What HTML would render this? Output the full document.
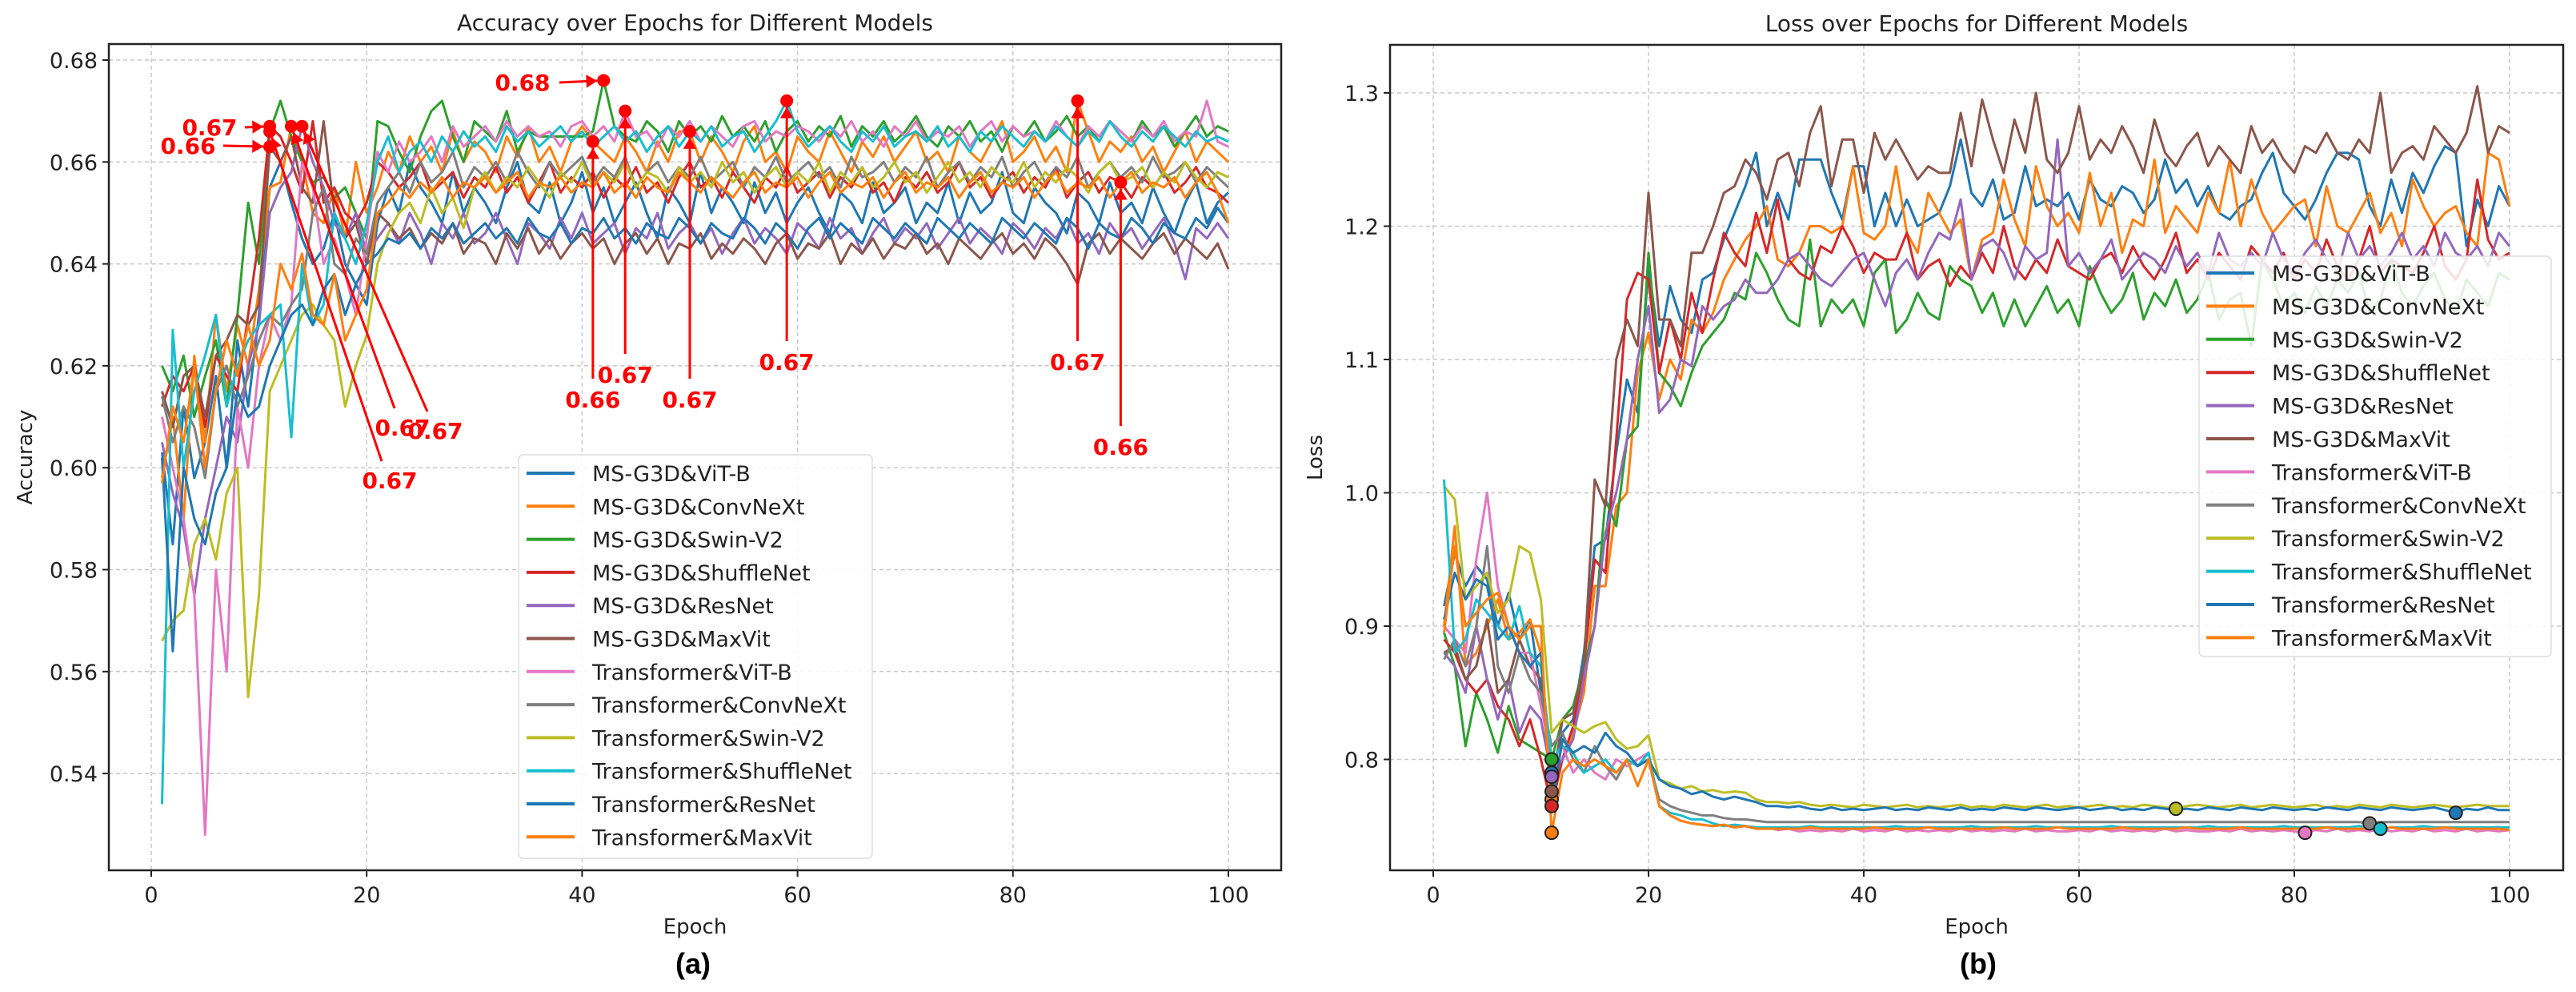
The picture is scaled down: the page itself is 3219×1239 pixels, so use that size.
<!DOCTYPE html>
<html><head><meta charset="utf-8"><style>
html,body{margin:0;padding:0;background:#fff;}
svg{display:block;font-family:"DejaVu Sans","Liberation Sans",sans-serif;}
</style></head><body>
<svg id="fig" width="3219" height="1239" viewBox="0 0 3219 1239" xmlns="http://www.w3.org/2000/svg">
<rect width="3219" height="1239" fill="#fff"/>
<g id="accChart"></g>
<g id="lossChart"></g>
</svg>
<script>
const seriesNames = ["MS-G3D&ViT-B","MS-G3D&ConvNeXt","MS-G3D&Swin-V2","MS-G3D&ShuffleNet","MS-G3D&ResNet","MS-G3D&MaxVit","Transformer&ViT-B","Transformer&ConvNeXt","Transformer&Swin-V2","Transformer&ShuffleNet","Transformer&ResNet","Transformer&MaxVit"];
const xTicks = [0,20,40,60,80,100];
const accTicks = [0.54,0.56,0.58,0.60,0.62,0.64,0.66,0.68];
const lossTicks = [0.8,0.9,1.0,1.1,1.2,1.3];

const acc1 = [.603,.585,.612,.598,.605,.618,.600,.625,.612,.630,.655,.660,.652,.645,.640,.643,.650,.640,.636,.632,.648,.655,.650,.660,.655,.652,.648,.658,.650,.655,.652,.648,.655,.660,.652,.650,.656,.648,.652,.658,.650,.655,.648,.652,.656,.650,.645,.655,.652,.648,.658,.650,.655,.652,.648,.656,.650,.654,.648,.652,.655,.650,.646,.654,.652,.648,.656,.650,.652,.655,.648,.652,.650,.656,.648,.654,.650,.652,.658,.650,.648,.655,.652,.650,.646,.654,.652,.648,.656,.650,.652,.648,.655,.650,.646,.652,.656,.648,.652,.654];
const acc2 = [.598,.610,.590,.622,.605,.630,.615,.628,.620,.635,.655,.656,.667,.660,.650,.648,.655,.645,.660,.650,.655,.662,.658,.665,.660,.663,.658,.666,.660,.664,.662,.658,.665,.661,.667,.660,.663,.658,.664,.667,.664,.662,.660,.665,.662,.658,.664,.660,.666,.666,.660,.665,.662,.658,.664,.667,.660,.662,.658,.665,.662,.660,.666,.662,.658,.664,.661,.665,.660,.663,.666,.660,.662,.658,.665,.662,.660,.664,.668,.660,.662,.665,.660,.663,.658,.672,.666,.660,.664,.662,.665,.660,.663,.658,.662,.666,.660,.664,.662,.660];
const acc3 = [.620,.615,.622,.610,.618,.625,.612,.630,.652,.640,.666,.672,.665,.660,.656,.657,.653,.655,.650,.645,.668,.667,.662,.658,.665,.670,.672,.665,.660,.668,.666,.664,.670,.662,.666,.665,.665,.665,.665,.665,.666,.676,.667,.665,.664,.668,.666,.662,.668,.665,.667,.664,.669,.665,.667,.664,.668,.662,.666,.668,.664,.667,.665,.669,.663,.667,.665,.668,.664,.666,.669,.665,.663,.667,.665,.668,.664,.666,.662,.667,.665,.668,.664,.666,.669,.665,.667,.664,.668,.666,.664,.668,.665,.667,.663,.666,.669,.665,.667,.666];
const acc4 = [.612,.618,.615,.620,.608,.622,.618,.615,.630,.645,.667,.665,.660,.654,.668,.652,.655,.650,.648,.652,.660,.658,.655,.657,.660,.654,.656,.658,.653,.657,.655,.659,.654,.657,.652,.656,.660,.654,.657,.655,.658,.653,.657,.655,.659,.654,.656,.652,.657,.660,.655,.657,.653,.658,.655,.652,.657,.655,.659,.654,.656,.658,.653,.657,.655,.659,.654,.656,.652,.657,.655,.658,.654,.656,.660,.655,.657,.653,.656,.658,.654,.657,.655,.659,.653,.656,.658,.654,.657,.656,.653,.657,.655,.658,.654,.656,.659,.655,.654,.652];
const acc5 = [.605,.595,.588,.575,.590,.600,.610,.605,.620,.628,.650,.655,.658,.667,.660,.655,.648,.645,.650,.642,.645,.648,.644,.650,.646,.640,.648,.645,.650,.644,.646,.650,.645,.640,.648,.646,.643,.649,.645,.650,.644,.646,.648,.642,.647,.645,.650,.643,.646,.648,.644,.647,.642,.646,.649,.644,.647,.645,.642,.648,.646,.643,.649,.645,.647,.642,.646,.649,.644,.647,.645,.648,.643,.646,.649,.644,.647,.645,.642,.648,.646,.643,.647,.645,.649,.644,.646,.642,.648,.645,.647,.643,.646,.649,.644,.637,.647,.645,.648,.645];
const acc6 = [.615,.608,.618,.620,.610,.622,.625,.630,.628,.632,.663,.660,.665,.655,.652,.668,.650,.645,.648,.640,.650,.648,.645,.647,.643,.646,.644,.648,.642,.645,.644,.640,.646,.643,.647,.642,.645,.641,.644,.646,.643,.645,.640,.644,.646,.642,.645,.640,.644,.643,.646,.641,.644,.642,.645,.643,.640,.644,.646,.641,.644,.643,.646,.640,.644,.642,.645,.641,.644,.643,.646,.642,.644,.640,.645,.643,.641,.644,.646,.642,.644,.641,.645,.643,.640,.636,.644,.646,.642,.645,.643,.641,.644,.646,.642,.645,.643,.641,.644,.639];
const acc7 = [.610,.600,.590,.575,.528,.580,.560,.612,.600,.620,.630,.625,.632,.660,.655,.640,.645,.638,.630,.645,.662,.658,.664,.660,.662,.665,.660,.667,.663,.665,.667,.664,.668,.665,.667,.665,.666,.663,.667,.668,.665,.667,.664,.670,.665,.666,.663,.667,.665,.668,.664,.667,.665,.663,.667,.668,.664,.666,.665,.667,.666,.664,.667,.665,.668,.664,.666,.663,.667,.665,.668,.664,.666,.665,.667,.663,.666,.668,.664,.667,.665,.666,.664,.668,.665,.663,.667,.665,.668,.666,.664,.667,.665,.668,.664,.666,.665,.672,.664,.663];
const acc8 = [.614,.605,.612,.608,.598,.615,.620,.612,.618,.625,.630,.628,.632,.635,.650,.655,.640,.638,.645,.642,.652,.655,.658,.654,.660,.656,.658,.662,.655,.659,.657,.660,.656,.662,.658,.655,.660,.657,.659,.661,.656,.659,.657,.661,.655,.658,.660,.656,.659,.657,.661,.656,.658,.660,.655,.659,.657,.661,.656,.658,.660,.657,.659,.655,.661,.657,.658,.660,.656,.659,.657,.661,.655,.658,.660,.656,.659,.657,.661,.655,.658,.660,.656,.659,.657,.661,.655,.658,.660,.657,.659,.656,.661,.657,.658,.660,.656,.659,.657,.655];
const acc9 = [.566,.570,.572,.585,.590,.582,.595,.600,.555,.575,.615,.620,.625,.630,.632,.628,.625,.612,.620,.626,.640,.646,.650,.652,.648,.655,.650,.653,.647,.655,.658,.654,.657,.655,.659,.656,.653,.658,.656,.660,.655,.658,.656,.660,.655,.658,.657,.654,.659,.656,.658,.655,.660,.656,.658,.654,.657,.659,.655,.658,.656,.660,.654,.658,.656,.659,.655,.657,.660,.656,.658,.654,.657,.660,.656,.658,.655,.659,.657,.656,.660,.655,.658,.656,.659,.657,.654,.658,.660,.656,.657,.659,.655,.658,.656,.660,.657,.655,.658,.657];
const acc10 = [.534,.627,.600,.615,.622,.630,.612,.620,.625,.628,.630,.632,.606,.640,.628,.632,.650,.645,.640,.648,.660,.665,.658,.662,.664,.660,.665,.662,.666,.663,.665,.662,.667,.664,.666,.663,.665,.667,.664,.666,.663,.665,.667,.664,.666,.662,.665,.667,.663,.666,.664,.667,.663,.665,.666,.662,.665,.668,.672,.666,.663,.665,.667,.664,.662,.666,.664,.667,.663,.665,.666,.664,.667,.663,.665,.662,.666,.664,.667,.665,.663,.666,.664,.667,.665,.663,.666,.664,.668,.665,.663,.666,.664,.667,.665,.663,.666,.664,.665,.664];
const acc11 = [.602,.564,.600,.590,.585,.595,.600,.615,.610,.612,.620,.625,.630,.632,.628,.635,.638,.630,.636,.640,.642,.645,.644,.646,.643,.647,.645,.648,.644,.646,.648,.645,.647,.644,.649,.646,.645,.648,.644,.647,.646,.649,.645,.647,.644,.648,.646,.645,.649,.647,.644,.648,.646,.645,.649,.647,.644,.648,.646,.643,.647,.649,.645,.648,.646,.644,.649,.647,.645,.648,.646,.644,.649,.647,.645,.648,.646,.644,.649,.647,.645,.648,.646,.644,.649,.647,.643,.648,.646,.645,.649,.647,.644,.648,.646,.645,.649,.647,.651,.648];
const acc12 = [.597,.612,.605,.620,.600,.615,.625,.618,.628,.620,.625,.640,.635,.642,.630,.628,.638,.625,.630,.635,.650,.652,.655,.653,.656,.654,.657,.653,.656,.655,.657,.654,.656,.658,.653,.656,.655,.657,.654,.656,.655,.658,.654,.656,.653,.657,.655,.654,.658,.656,.654,.657,.655,.653,.656,.658,.654,.656,.655,.657,.653,.656,.658,.654,.656,.655,.657,.653,.656,.658,.654,.656,.655,.657,.653,.656,.658,.654,.656,.655,.657,.653,.656,.658,.654,.656,.655,.657,.653,.656,.658,.654,.656,.655,.657,.653,.656,.658,.654,.648];

const loss1 = [.915,.955,.930,.945,.935,.900,.925,.890,.905,.850,.790,.820,.830,.880,.960,.965,1.030,1.085,1.060,1.170,1.110,1.155,1.130,1.120,1.160,1.165,1.190,1.210,1.230,1.255,1.200,1.225,1.205,1.250,1.250,1.250,1.225,1.205,1.245,1.245,1.200,1.225,1.200,1.220,1.200,1.205,1.210,1.230,1.265,1.225,1.215,1.235,1.205,1.210,1.245,1.215,1.220,1.215,1.225,1.205,1.235,1.220,1.215,1.230,1.225,1.210,1.220,1.250,1.225,1.235,1.215,1.230,1.210,1.205,1.215,1.220,1.240,1.255,1.225,1.215,1.205,1.220,1.240,1.255,1.255,1.250,1.215,1.200,1.235,1.210,1.240,1.225,1.245,1.260,1.255,1.185,1.220,1.200,1.230,1.215];
const loss2 = [.900,.975,.870,.880,.900,.920,.890,.895,.905,.880,.770,.800,.820,.850,.930,.930,.990,1.000,1.090,1.120,1.070,1.100,1.085,1.130,1.120,1.135,1.160,1.175,1.190,1.200,1.215,1.175,1.170,1.180,1.200,1.200,1.195,1.200,1.245,1.195,1.190,1.200,1.245,1.195,1.180,1.225,1.210,1.195,1.205,1.160,1.190,1.195,1.235,1.205,1.185,1.245,1.215,1.200,1.210,1.195,1.240,1.200,1.225,1.180,1.205,1.200,1.250,1.195,1.215,1.205,1.195,1.225,1.210,1.250,1.200,1.235,1.210,1.195,1.205,1.215,1.220,1.185,1.230,1.200,1.195,1.210,1.225,1.195,1.210,1.185,1.235,1.215,1.200,1.210,1.215,1.195,1.185,1.255,1.250,1.215];
const loss3 = [.895,.870,.810,.850,.830,.805,.840,.815,.810,.805,.800,.830,.840,.870,.900,.995,.975,1.040,1.050,1.180,1.090,1.080,1.065,1.090,1.110,1.120,1.130,1.150,1.145,1.180,1.165,1.145,1.130,1.125,1.190,1.125,1.145,1.135,1.145,1.125,1.165,1.175,1.120,1.130,1.150,1.135,1.130,1.170,1.160,1.155,1.135,1.150,1.125,1.145,1.125,1.140,1.155,1.135,1.145,1.125,1.170,1.150,1.135,1.145,1.165,1.130,1.150,1.140,1.160,1.135,1.145,1.165,1.130,1.145,1.150,1.110,1.175,1.160,1.140,1.150,1.135,1.155,1.140,1.160,1.150,1.165,1.135,1.145,1.175,1.150,1.140,1.155,1.165,1.145,1.135,1.160,1.150,1.140,1.165,1.160];
const loss4 = [.890,.880,.860,.850,.860,.840,.830,.810,.830,.800,.765,.800,.825,.870,.950,.940,1.040,1.145,1.165,1.160,1.090,1.130,1.100,1.150,1.120,1.160,1.195,1.180,1.170,1.210,1.180,1.220,1.175,1.165,1.160,1.185,1.180,1.200,1.185,1.165,1.180,1.175,1.175,1.195,1.160,1.170,1.175,1.155,1.170,1.160,1.180,1.165,1.200,1.170,1.160,1.175,1.165,1.190,1.170,1.165,1.160,1.175,1.180,1.165,1.185,1.170,1.160,1.175,1.195,1.165,1.175,1.160,1.180,1.170,1.160,1.185,1.175,1.165,1.180,1.160,1.175,1.165,1.190,1.170,1.160,1.175,1.200,1.165,1.175,1.170,1.165,1.180,1.200,1.170,1.160,1.175,1.235,1.190,1.175,1.180];
const loss5 = [.880,.870,.850,.900,.860,.830,.860,.820,.840,.830,.787,.800,.815,.860,.900,.970,1.000,1.040,1.100,1.140,1.060,1.070,1.100,1.095,1.140,1.130,1.140,1.145,1.160,1.150,1.150,1.160,1.175,1.180,1.170,1.160,1.155,1.165,1.175,1.180,1.160,1.140,1.165,1.175,1.160,1.180,1.195,1.190,1.220,1.160,1.185,1.190,1.180,1.160,1.185,1.175,1.180,1.265,1.170,1.180,1.165,1.175,1.190,1.160,1.170,1.180,1.175,1.165,1.185,1.170,1.180,1.165,1.195,1.175,1.170,1.180,1.170,1.195,1.175,1.165,1.180,1.190,1.175,1.165,1.195,1.175,1.185,1.170,1.180,1.195,1.175,1.185,1.170,1.195,1.180,1.175,1.185,1.170,1.195,1.185];
const loss6 = [.880,.885,.860,.870,.905,.850,.860,.890,.870,.860,.776,.830,.835,.870,1.010,.990,1.100,1.130,1.110,1.225,1.130,1.130,1.110,1.180,1.180,1.200,1.225,1.230,1.250,1.240,1.220,1.250,1.255,1.230,1.270,1.290,1.230,1.265,1.265,1.225,1.270,1.250,1.265,1.250,1.235,1.245,1.240,1.240,1.285,1.245,1.295,1.265,1.240,1.280,1.255,1.300,1.250,1.240,1.255,1.290,1.250,1.265,1.255,1.275,1.260,1.240,1.280,1.255,1.245,1.260,1.270,1.245,1.260,1.250,1.240,1.275,1.255,1.265,1.250,1.240,1.260,1.255,1.270,1.255,1.250,1.265,1.255,1.300,1.240,1.255,1.260,1.250,1.275,1.265,1.255,1.270,1.305,1.255,1.275,1.270];
const loss7 = [.900,.890,.880,.950,1.000,.930,.900,.880,.880,.840,.800,.810,.790,.800,.790,.785,.800,.795,.800,.805,.765,.758,.754,.752,.751,.750,.751,.749,.750,.748,.749,.747,.748,.746,.747,.746,.747,.746,.748,.746,.747,.746,.748,.746,.747,.746,.747,.746,.748,.746,.747,.746,.747,.746,.748,.746,.747,.746,.746,.747,.746,.748,.746,.747,.746,.747,.746,.748,.746,.747,.746,.746,.747,.746,.748,.746,.747,.746,.747,.746,.745,.747,.746,.748,.746,.747,.746,.748,.746,.747,.746,.748,.746,.747,.746,.748,.746,.747,.746,.747];
const loss8 = [.875,.890,.870,.900,.960,.870,.850,.880,.860,.850,.810,.820,.800,.790,.810,.795,.785,.800,.795,.800,.770,.765,.762,.760,.758,.758,.756,.755,.755,.754,.753,.753,.753,.753,.753,.753,.753,.753,.753,.753,.753,.753,.753,.753,.753,.753,.753,.753,.753,.753,.753,.753,.753,.753,.753,.753,.753,.753,.753,.753,.753,.753,.753,.753,.753,.753,.753,.753,.753,.753,.753,.753,.753,.753,.753,.753,.753,.753,.753,.753,.753,.753,.753,.753,.753,.753,.752,.753,.753,.753,.753,.753,.753,.753,.753,.753,.753,.753,.753,.753];
const loss9 = [1.005,.995,.920,.930,.940,.910,.920,.960,.955,.920,.820,.830,.825,.820,.825,.828,.815,.808,.810,.818,.785,.782,.778,.780,.776,.777,.775,.776,.775,.770,.768,.768,.767,.768,.766,.765,.766,.765,.764,.766,.765,.764,.765,.766,.764,.765,.764,.765,.766,.764,.765,.764,.766,.765,.764,.765,.766,.764,.765,.764,.765,.766,.764,.765,.764,.766,.765,.764,.763,.765,.766,.765,.764,.765,.766,.764,.765,.766,.765,.764,.765,.766,.764,.765,.764,.766,.765,.764,.766,.765,.764,.765,.766,.765,.764,.765,.766,.765,.765,.765];
const loss10 = [1.010,.880,.890,.920,.910,.900,.890,.915,.880,.870,.800,.810,.805,.790,.795,.800,.790,.800,.795,.805,.765,.760,.758,.755,.755,.752,.750,.751,.750,.749,.749,.749,.749,.749,.750,.749,.749,.749,.749,.749,.749,.749,.750,.749,.749,.749,.749,.749,.749,.750,.749,.749,.749,.749,.749,.750,.749,.749,.749,.749,.749,.749,.750,.749,.749,.749,.749,.749,.749,.749,.749,.750,.749,.749,.749,.749,.749,.749,.750,.749,.749,.749,.749,.749,.749,.750,.749,.748,.749,.749,.749,.750,.749,.749,.749,.749,.749,.749,.749,.749];
const loss11 = [.905,.940,.920,.935,.930,.890,.900,.880,.870,.880,.763,.815,.805,.810,.805,.820,.810,.805,.795,.800,.785,.780,.778,.774,.776,.772,.770,.772,.770,.768,.765,.765,.764,.765,.763,.762,.764,.762,.763,.762,.763,.764,.762,.763,.762,.764,.763,.762,.764,.762,.763,.762,.764,.763,.762,.764,.763,.762,.763,.764,.762,.763,.764,.762,.763,.762,.764,.763,.762,.763,.762,.764,.763,.762,.764,.763,.762,.764,.763,.762,.763,.762,.764,.763,.762,.764,.763,.762,.764,.763,.762,.763,.764,.762,.760,.763,.762,.764,.762,.762];
const loss12 = [.895,.960,.900,.910,.920,.925,.900,.890,.900,.900,.745,.790,.800,.795,.800,.795,.790,.800,.780,.800,.765,.758,.754,.752,.751,.750,.751,.749,.750,.748,.748,.748,.748,.748,.749,.748,.748,.748,.748,.748,.749,.748,.748,.748,.748,.749,.748,.748,.748,.748,.748,.748,.749,.748,.748,.748,.748,.749,.748,.748,.748,.748,.748,.749,.748,.748,.748,.748,.748,.749,.748,.748,.748,.748,.749,.748,.748,.748,.748,.748,.748,.748,.749,.748,.748,.748,.748,.748,.749,.748,.748,.748,.748,.749,.748,.748,.748,.748,.748,.747];

// accuracy annotations: epoch + series index (label text = value rounded)
const annEpochs = [11,11,11,13,14,41,42,44,50,59,86,90];
const annSeries = [5,3,2,1,4,1,2,6,1,9,1,3];

const colors = ["#1f77b4","#ff7f0e","#2ca02c","#d62728","#9467bd","#8c564b","#e377c2","#7f7f7f","#bcbd22","#17becf","#1f77b4","#ff7f0e"];
// label placement (layout only): mode, text x, text y
const annLayout = [["left",235,182],["left",262,159],["diag",487,600],["diag",503,534],["diag",544,538],["below",0,499],["lefttop",653,103],["below",0,468],["below",0,499],["below",0,452],["below",0,452],["below",0,558]];

const NS = "http://www.w3.org/2000/svg";
function mk(tag, attrs, parent){const e=document.createElementNS(NS,tag);for(const k in attrs)e.setAttribute(k,attrs[k]);parent.appendChild(e);return e;}

function drawChart(g, cfg){
  const {L,R,T,B,x0px,x100px,yRef,yRefPx,pxPerUnit,yTicks,series,title,ylabel,sub,legend,tickFmt} = cfg;
  const sx = e => x0px + (x100px-x0px)*e/100;
  const sy = v => yRefPx + (yRef - v)*pxPerUnit;
  // grid
  xTicks.forEach(t=>{const l=mk('line',{x1:sx(t),x2:sx(t),y1:T,y2:B,stroke:'#c8c8c8','stroke-width':1.5,'stroke-dasharray':'5,4'},g);
    
    });
  yTicks.forEach(t=>{const l=mk('line',{x1:L,x2:R,y1:sy(t),y2:sy(t),stroke:'#c8c8c8','stroke-width':1.5,'stroke-dasharray':'5,4'},g);
    
    });
  // clip
  const cid = 'clip'+title.length;
  const cp = mk('clipPath',{id:cid},g); mk('rect',{x:L,y:T,width:R-L,height:B-T},cp);
  const lines = mk('g',{'clip-path':`url(#${cid})`},g);
  series.forEach((arr,i)=>{
    const d = arr.map((v,k)=>(k?'L':'M')+sx(k+1).toFixed(1)+','+sy(v).toFixed(1)).join('');
    const p = mk('path',{d:d,fill:'none',stroke:colors[i],'stroke-width':3,'stroke-linejoin':'round'},lines);
    
    
  });
  cfg.extra && cfg.extra(lines, sx, sy);
  // spines
  const sp = mk('rect',{x:L,y:T,width:R-L,height:B-T,fill:'none',stroke:'#222','stroke-width':2.5},g);
  
  
  // ticks
  xTicks.forEach(t=>{mk('line',{x1:sx(t),x2:sx(t),y1:B,y2:B+8,stroke:'#222','stroke-width':2},g);
    const tx=mk('text',{x:sx(t),y:B+40,'font-size':27,'text-anchor':'middle',fill:'#222'},g);tx.textContent=t;
    
    });
  yTicks.forEach(t=>{mk('line',{x1:L-8,x2:L,y1:sy(t),y2:sy(t),stroke:'#222','stroke-width':2},g);
    const tx=mk('text',{x:L-14,y:sy(t)+10,'font-size':27,'text-anchor':'end',fill:'#222'},g);tx.textContent=tickFmt(t);
    
    });
  const tt=mk('text',{x:(L+R)/2,y:T-17,'font-size':28,'text-anchor':'middle',fill:'#222'},g);tt.textContent=title;
  
  
  const xl=mk('text',{x:(L+R)/2,y:1166,'font-size':26,'text-anchor':'middle',fill:'#222'},g);xl.textContent='Epoch';
  
  
  const yl=mk('text',{x:cfg.ylx,y:(T+B)/2,'font-size':26,'text-anchor':'middle',fill:'#222',transform:`rotate(-90 ${cfg.ylx} ${(T+B)/2})`},g);yl.textContent=ylabel;
  
  
  const sb=mk('text',{x:cfg.subx,y:1216,'font-size':36,'font-weight':'bold','text-anchor':'middle',fill:'#000','font-family':'Liberation Sans, sans-serif'},g);sb.textContent=sub;
  
  
  // legend
  const lg = mk('g',{},g);
  
  
  mk('rect',{x:legend.x,y:legend.y,width:legend.w,height:legend.h,rx:6,fill:'#fff','fill-opacity':0.85,stroke:'#ddd','stroke-width':1.5},lg);
  seriesNames.forEach((n,i)=>{
    const yy = legend.row0 + i*legend.dy;
    const ent = mk('g',{},lg);
    
    
    mk('line',{x1:legend.lx,x2:legend.lx+60,y1:yy,y2:yy,stroke:colors[i],'stroke-width':4},ent);
    const t=mk('text',{x:legend.lx+82,y:yy+10,'font-size':27,fill:'#222'},ent);t.textContent=n;
  });
}

// Accuracy chart
drawChart(document.getElementById('accChart'),{
  L:136,R:1601,T:55,B:1087,x0px:189,x100px:1535,yRef:0.68,yRefPx:75,pxPerUnit:127.3/0.02,
  yTicks:accTicks,series:[acc1,acc2,acc3,acc4,acc5,acc6,acc7,acc8,acc9,acc10,acc11,acc12],
  title:'Accuracy over Epochs for Different Models',ylabel:'Accuracy',sub:'(a)',ylx:40,subx:866,tickFmt:t=>t.toFixed(2),
  legend:{x:648,y:568,w:442,h:504,lx:658,row0:591,dy:41.3},
  extra:(g,sx,sy)=>{
    const all=[acc1,acc2,acc3,acc4,acc5,acc6,acc7,acc8,acc9,acc10,acc11,acc12];
    const ag = mk('g',{},g.parentNode);
    
    
    annEpochs.forEach((ep,i)=>{
      const v = all[annSeries[i]][ep-1];
      const px=sx(ep), py=sy(v);
      const [mode,tx0,ty] = annLayout[i];
      const lab = v.toFixed(2);
      let tx, anchor, lx1, ly1;
      if(mode==='left'){tx=tx0;anchor='middle';lx1=tx0+44;ly1=ty;}
      else if(mode==='lefttop'){tx=tx0;anchor='middle';lx1=tx0+46;ly1=ty;}
      else if(mode==='diag'){tx=tx0;anchor='middle';lx1=tx0-10;ly1=ty-24;}
      else {tx=px;anchor='middle';lx1=px;ly1=ty-26;}
      const ang=Math.atan2(py-ly1,px-lx1), hx=px-Math.cos(ang)*8, hy=py-Math.sin(ang)*8;
      mk('line',{x1:lx1,y1:ly1,x2:hx,y2:hy,stroke:'#ff0000','stroke-width':3},ag);
      const a1=ang+2.6,a2=ang-2.6;
      mk('polygon',{points:`${hx},${hy} ${hx+Math.cos(a1)*16},${hy+Math.sin(a1)*16} ${hx+Math.cos(a2)*16},${hy+Math.sin(a2)*16}`,fill:'#ff0000'},ag);
      const c=mk('circle',{cx:px,cy:py,r:8,fill:'#ff0000'},ag);
      
      
      const t=mk('text',{x:tx,y:ty+10,'font-size':28,'font-weight':'bold','text-anchor':anchor,fill:'#ff0000'},ag);t.textContent=lab;
      
      
    });
  }
});

// Loss chart
drawChart(document.getElementById('lossChart'),{
  L:1737,R:3203,T:56,B:1087,x0px:1791,x100px:3136,yRef:1.3,yRefPx:116,pxPerUnit:1665,
  yTicks:lossTicks,series:[loss1,loss2,loss3,loss4,loss5,loss6,loss7,loss8,loss9,loss10,loss11,loss12],
  title:'Loss over Epochs for Different Models',ylabel:'Loss',sub:'(b)',ylx:1652,subx:2472,tickFmt:t=>t.toFixed(1),
  legend:{x:2748,y:320,w:440,h:500,lx:2757,row0:341,dy:41.4},
  extra:(g,sx,sy)=>{
    const all=[loss1,loss2,loss3,loss4,loss5,loss6,loss7,loss8,loss9,loss10,loss11,loss12];
    all.forEach((arr,i)=>{
      let m=0; arr.forEach((v,k)=>{if(v<=arr[m])m=k;});
      const c=mk('circle',{cx:sx(m+1),cy:sy(arr[m]),r:8,fill:colors[i],stroke:'#222','stroke-width':2},g);
      
      
    });
  }
});
</script>
</body></html>
